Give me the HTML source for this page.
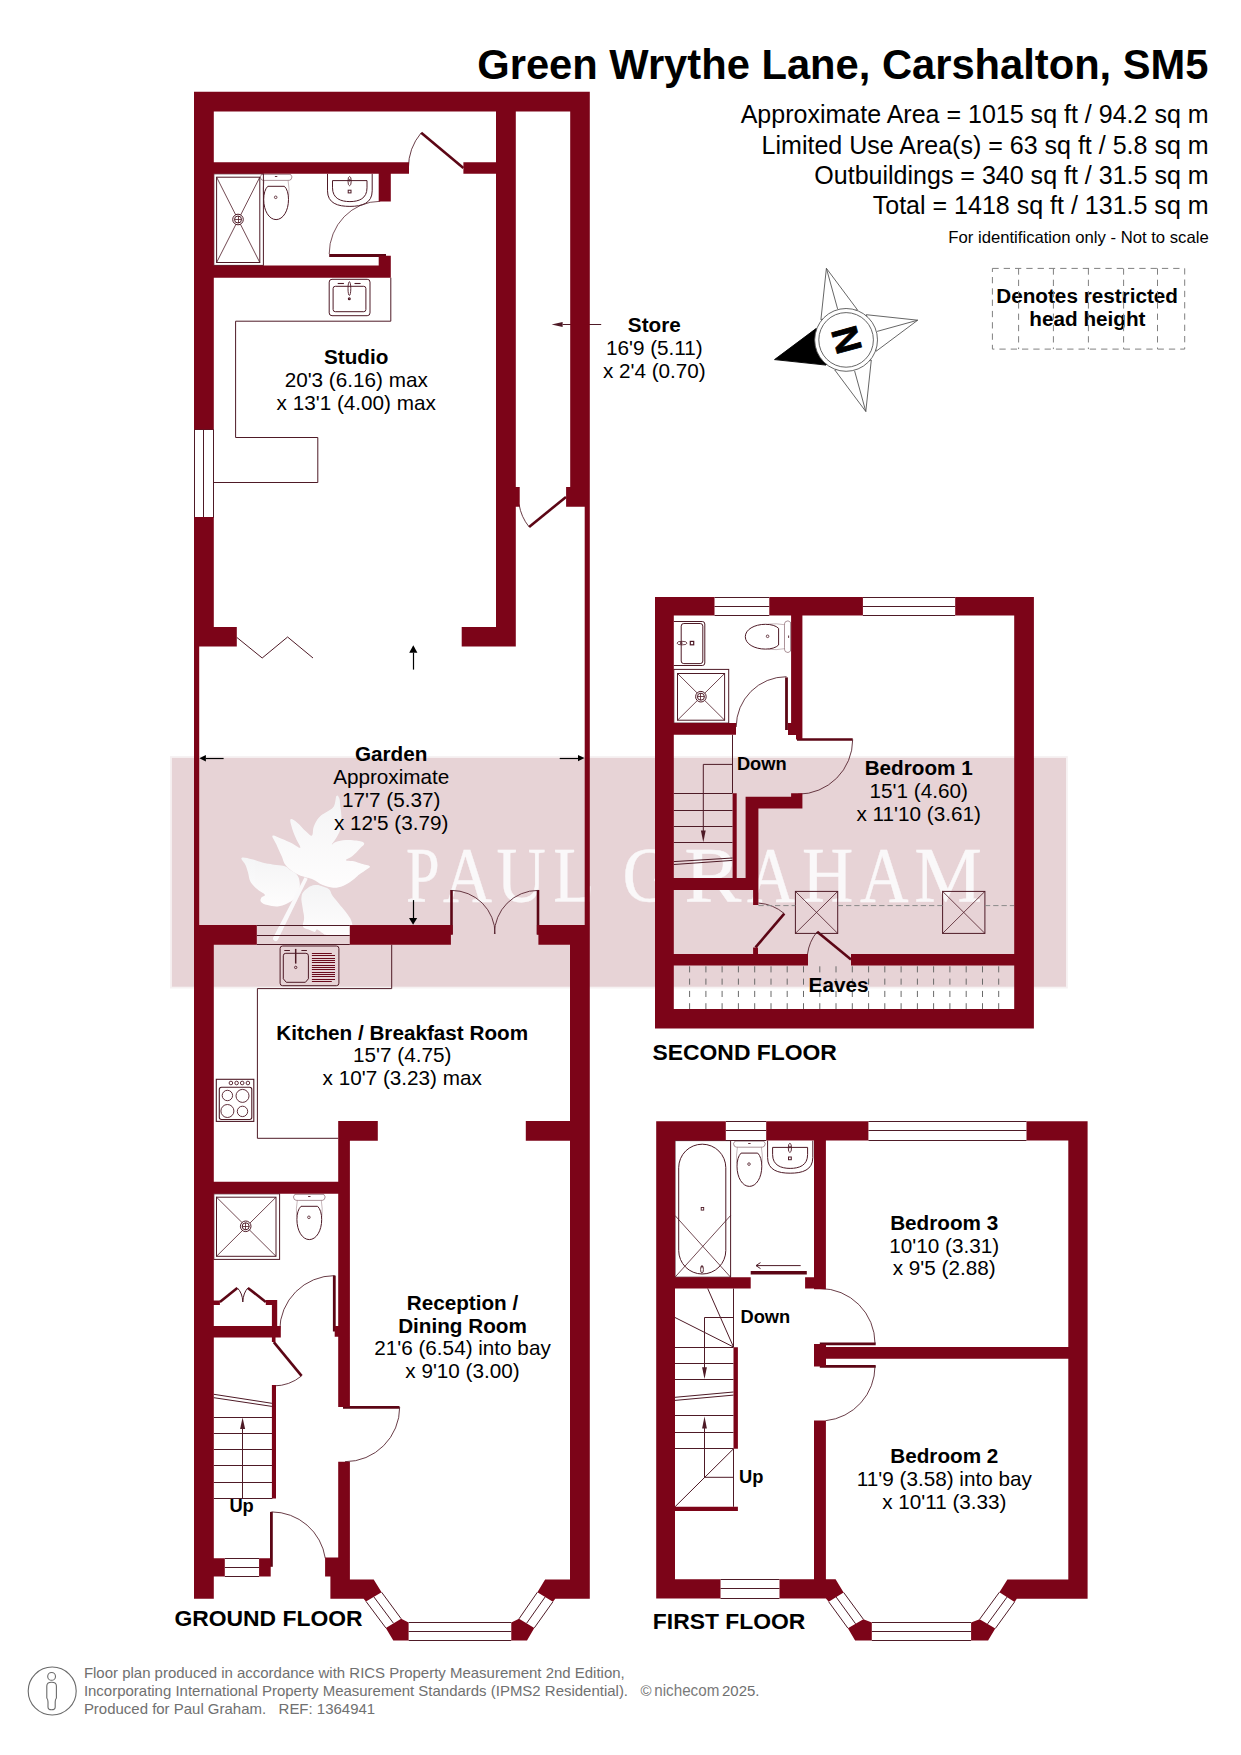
<!DOCTYPE html>
<html><head><meta charset="utf-8"><title>Floor plan</title>
<style>html,body{margin:0;padding:0;background:#fff}svg{display:block}text{font-family:"Liberation Sans",sans-serif}</style></head><body>
<svg width="1241" height="1755" viewBox="0 0 1241 1755">
<rect width="1241" height="1755" fill="#fff"/>
<g id="wm">
<rect x="170" y="756.1" width="897.8" height="232.4" fill="#f6f1f2"/>
<rect x="171.9" y="757.9" width="894.1" height="228.8" fill="#e7d3d6"/>
<defs><linearGradient id="lg" x1="0" y1="0" x2="0" y2="1"><stop offset="0" stop-color="#f5f6f7"/><stop offset="1" stop-color="#ffffff"/></linearGradient></defs>
<g fill="url(#lg)" opacity="0.97">
<path d="M336.4 796.1 C335.3 797.8 335.9 803.2 333.8 806.4 C331.7 809.7 329.0 810.0 326.1 812.2 C323.1 814.4 321.4 814.6 319.0 817.4 C316.5 820.2 315.2 822.8 313.8 826.4 C312.4 830.0 313.4 834.4 311.9 835.4 C310.3 836.5 309.0 834.2 306.1 831.6 C303.1 829.0 300.1 825.0 297.0 822.5 C294.0 820.1 291.6 818.3 290.6 819.3 C289.6 820.4 290.9 824.0 291.9 827.7 C292.9 831.4 294.1 834.0 295.8 838.0 C297.4 842.0 301.0 846.7 300.3 847.7 C299.5 848.7 295.6 845.0 291.9 843.2 C288.1 841.4 285.4 840.2 281.6 838.7 C277.7 837.2 273.6 834.5 272.5 835.7 C271.5 836.9 274.6 840.4 276.4 844.5 C278.2 848.5 279.6 851.8 281.6 856.1 C283.5 860.3 283.0 862.1 286.1 865.7 C289.2 869.4 293.2 871.8 297.0 874.1 C300.9 876.4 302.3 876.3 305.4 877.3 C308.5 878.4 309.0 877.7 312.5 879.3 C316.0 880.8 318.7 883.4 322.8 885.1 C327.0 886.8 329.0 887.5 333.1 887.7 C337.3 887.8 339.3 887.4 343.5 885.7 C347.6 884.0 350.7 881.5 353.8 879.3 C356.9 877.1 356.6 876.6 358.9 874.8 C361.3 873.0 363.2 871.9 365.4 870.3 C367.6 868.6 370.7 867.7 369.9 866.4 C369.1 865.1 364.7 864.8 361.5 863.8 C358.3 862.8 356.9 861.9 353.8 861.2 C350.7 860.5 346.3 861.2 346.0 860.2 C345.8 859.2 349.6 858.4 352.5 856.1 C355.3 853.7 357.9 850.9 360.2 848.3 C362.5 845.8 364.9 844.7 364.1 843.2 C363.3 841.6 360.0 841.2 356.4 840.6 C352.7 840.0 350.2 839.7 346.0 840.0 C341.9 840.2 338.6 841.0 335.7 841.9 C332.9 842.8 331.6 845.5 331.9 844.5 C332.1 843.4 335.2 840.1 337.0 836.7 C338.8 833.4 340.0 831.6 340.9 827.7 C341.8 823.8 341.7 821.8 341.5 817.4 C341.4 813.0 340.7 809.7 340.2 805.8 C339.8 801.9 340.0 800.0 339.2 798.1 C338.4 796.1 337.5 794.4 336.4 796.1z"/>
<path d="M241.6 858.0 C242.9 856.8 247.8 858.4 251.9 859.3 C256.0 860.2 258.9 861.6 262.2 862.5 C265.6 863.4 265.8 863.3 268.7 863.8 C271.5 864.3 273.1 864.6 276.4 865.1 C279.8 865.6 282.6 865.4 285.4 866.4 C288.3 867.4 288.3 868.6 290.6 870.3 C292.9 871.9 295.2 872.4 297.0 874.8 C298.8 877.1 299.2 878.9 299.6 881.9 C300.0 884.8 300.0 886.2 299.0 889.6 C297.9 892.9 296.9 895.8 294.5 898.6 C292.0 901.5 290.1 902.2 286.7 903.8 C283.4 905.3 281.6 906.1 277.7 906.4 C273.8 906.6 270.7 906.0 267.4 905.1 C264.0 904.2 262.1 903.4 260.9 901.8 C259.8 900.3 260.8 898.7 261.6 897.3 C262.4 895.9 265.6 896.3 264.8 894.7 C264.0 893.2 260.6 892.2 257.7 889.6 C254.9 887.0 252.6 885.2 250.6 881.9 C248.7 878.5 249.1 876.2 248.1 872.8 C247.0 869.5 246.8 868.1 245.5 865.1 C244.2 862.1 240.3 859.2 241.6 858.0z"/>
<path d="M301.6 896.0 C302.5 891.9 304.7 890.5 307.4 888.3 C310.1 886.1 312.0 885.5 315.1 885.1 C318.2 884.7 320.0 885.5 322.8 886.4 C325.7 887.3 327.5 887.9 329.3 889.6 C331.1 891.3 330.3 892.4 331.9 894.7 C333.4 897.1 335.0 898.6 337.0 901.2 C339.1 903.8 340.1 905.1 342.2 907.6 C344.2 910.2 345.5 911.5 347.3 914.1 C349.1 916.7 350.1 917.7 351.2 920.5 C352.3 923.4 352.6 925.4 352.9 928.3 C353.1 931.1 353.9 933.3 352.5 934.7 C351.1 936.1 350.9 935.1 346.0 935.2 C341.1 935.3 332.7 935.7 328.0 935.2 C323.3 934.8 324.2 933.8 322.4 932.9 C320.6 932.0 320.1 931.3 319.0 930.6 C317.8 929.9 317.5 929.3 316.6 929.6 C315.8 929.8 316.2 931.9 314.6 931.9 C313.0 931.9 311.0 930.6 308.6 929.6 C306.3 928.5 303.9 928.9 303.0 926.6 C302.1 924.3 304.2 921.5 304.1 918.0 C304.1 914.4 303.4 913.3 302.8 908.9 C302.3 904.5 300.7 900.2 301.6 896.0z"/>
<path d="M304.5 877.2 L307.7 878.8 L277.7 940 A2.6 2.6 0 0 1 273.1 937.7 Z" fill="#fbfbfc"/>
</g>
<text transform='translate(406.09,900.7) scale(0.604,0.789)' style="font-family:'Liberation Serif',serif" font-size='100' fill='#faf8f9' stroke='#faf8f9' stroke-width='0.5'>P</text>
<text transform='translate(443.00,900.7) scale(0.679,0.789)' style="font-family:'Liberation Serif',serif" font-size='100' fill='#faf8f9' stroke='#faf8f9' stroke-width='0.5'>A</text>
<text transform='translate(496.53,900.7) scale(0.683,0.789)' style="font-family:'Liberation Serif',serif" font-size='100' fill='#faf8f9' stroke='#faf8f9' stroke-width='0.5'>U</text>
<text transform='translate(553.36,900.7) scale(0.672,0.789)' style="font-family:'Liberation Serif',serif" font-size='100' fill='#faf8f9' stroke='#faf8f9' stroke-width='0.5'>L</text>
<text transform='translate(622.47,900.7) scale(0.708,0.789)' style="font-family:'Liberation Serif',serif" font-size='100' fill='#faf8f9' stroke='#faf8f9' stroke-width='0.5'>G</text>
<text transform='translate(684.29,900.7) scale(0.855,0.789)' style="font-family:'Liberation Serif',serif" font-size='100' fill='#faf8f9' stroke='#faf8f9' stroke-width='0.5'>R</text>
<text transform='translate(747.00,900.7) scale(0.667,0.789)' style="font-family:'Liberation Serif',serif" font-size='100' fill='#faf8f9' stroke='#faf8f9' stroke-width='0.5'>A</text>
<text transform='translate(801.88,900.7) scale(0.710,0.789)' style="font-family:'Liberation Serif',serif" font-size='100' fill='#faf8f9' stroke='#faf8f9' stroke-width='0.5'>H</text>
<text transform='translate(860.00,900.7) scale(0.672,0.789)' style="font-family:'Liberation Serif',serif" font-size='100' fill='#faf8f9' stroke='#faf8f9' stroke-width='0.5'>A</text>
<text transform='translate(914.18,900.7) scale(0.762,0.789)' style="font-family:'Liberation Serif',serif" font-size='100' fill='#faf8f9' stroke='#faf8f9' stroke-width='0.5'>M</text>
</g>
<g id="lines" fill="none">
<line x1="194.5" y1="429.6" x2="194.5" y2="517.0" stroke="#4e1a26" stroke-width="1.0" />
<line x1="203.5" y1="429.6" x2="203.5" y2="517.0" stroke="#4e1a26" stroke-width="1.0" />
<line x1="213.5" y1="429.6" x2="213.5" y2="517.0" stroke="#4e1a26" stroke-width="1.0" />
<line x1="194.0" y1="429.5" x2="213.8" y2="429.5" stroke="#4e1a26" stroke-width="1.0" />
<line x1="194.0" y1="517.5" x2="213.8" y2="517.5" stroke="#4e1a26" stroke-width="1.0" />
<path d="M390.8 277.7 V321.2 H235.6 V437.5 H317.8 V482.5 H213.8" stroke="#4e1a26" stroke-width="1.0" fill="none" />
<path d="M236.8 637.4 L262.2 658 L287.6 637 L313 658" stroke="#4e1a26" stroke-width="1.0" fill="none" />
<line x1="463.4" y1="168.0" x2="421.2" y2="132.8" stroke="#5c0615" stroke-width="2.6" />
<path d="M421.2 132.8 A55.0 55.0 0 0 0 408.4 168.0" stroke="#4e1a26" stroke-width="0.85" fill="none" />
<line x1="329.2" y1="255.4" x2="386.0" y2="255.4" stroke="#5c0615" stroke-width="3" />
<path d="M329.2 254 A51 52.7 0 0 1 380.2 201.3" stroke="#4e1a26" stroke-width="0.75" fill="none" />
<line x1="566.0" y1="497.0" x2="529.1" y2="526.9" stroke="#5c0615" stroke-width="2.6" />
<path d="M529.1 526.9 A47.5 47.5 0 0 1 519.1 504.4" stroke="#4e1a26" stroke-width="0.85" fill="none" />
<rect x="213.8" y="173.8" width="49.6" height="91.6" rx="0" fill="none" stroke="#4e1a26" stroke-width="1.0"/>
<rect x="216.6" y="177.2" width="43.2" height="85.3" rx="0" fill="none" stroke="#4e1a26" stroke-width="1.0"/>
<line x1="216.6" y1="177.2" x2="259.8" y2="262.5" stroke="#4e1a26" stroke-width="0.8" />
<line x1="259.8" y1="177.2" x2="216.6" y2="262.5" stroke="#4e1a26" stroke-width="0.8" />
<circle cx="238.0" cy="219.5" r="5.3" stroke="#4e1a26" stroke-width="1.0" fill="#fff"/>
<circle cx="238.0" cy="219.5" r="3.5" stroke="#4e1a26" stroke-width="1.0" fill="none"/>
<line x1="234.5" y1="219.5" x2="241.5" y2="219.5" stroke="#4e1a26" stroke-width="0.8" />
<line x1="238.5" y1="216.0" x2="238.5" y2="223.0" stroke="#4e1a26" stroke-width="0.8" />
<path d="M261.6 174.4 h29 q2.5 2.5 0.5 5 q-1.5 1.3 -4 1 h-22 q-2.5 0.3 -4 -1 q-2 -2.5 0.5 -5z" stroke="#4e1a26" stroke-width="0.8" fill="none" opacity="0.6"/>
<path d="M264.1 180.6 q-1.5 8 -0.6 16 M288.1 180.6 q1.5 8 0.6 16" stroke="#4e1a26" stroke-width="0.7" fill="none" opacity="0.45"/>
<path d="M267.8 186.3 H284.4 C287.1 188.8 288.5 193.8 288.5 199.4 C288.5 210.8 283.1 219.6 276.1 219.6 C269.1 219.6 263.7 210.8 263.7 199.4 C263.7 193.8 265.1 188.8 267.8 186.3z" stroke="#4e1a26" stroke-width="1.0" fill="none" />
<circle cx="275.7" cy="197.3" r="1.3" stroke="#4e1a26" stroke-width="0.8" fill="none"/>
<line x1="274.9" y1="176.5" x2="277.3" y2="176.5" stroke="#4e1a26" stroke-width="0.9" />
<path d="M327.5 173.8 V190.8 C327.5 203.4 337.9 206.4 349.9 206.4 C361.9 206.4 372.2 203.4 372.2 190.8 V173.8" stroke="#4e1a26" stroke-width="1.0" fill="none" />
<path d="M332.5 180.6 H367.0 V187.8 C367.0 198.6 358.9 201.6 349.9 201.6 C340.9 201.6 332.5 198.6 332.5 187.8z" stroke="#4e1a26" stroke-width="1.0" fill="none" />
<ellipse cx="349.6" cy="181.1" rx="1.6" ry="4.6" stroke="#4e1a26" stroke-width="0.9" fill="none"/>
<circle cx="349.6" cy="180.3" r="0.8" stroke="#4e1a26" stroke-width="0.8" fill="none"/>
<rect x="348.2" y="190.2" width="2.8" height="2.7" rx="0" fill="none" stroke="#4e1a26" stroke-width="1.0"/>
<rect x="329.2" y="279.3" width="40.8" height="36.4" rx="2.8" fill="none" stroke="#4e1a26" stroke-width="1.0"/>
<rect x="333.1" y="286.3" width="32.8" height="25.4" rx="2.2" fill="none" stroke="#4e1a26" stroke-width="1.0"/>
<ellipse cx="349.4" cy="288.6" rx="1.4" ry="6.9" stroke="#4e1a26" stroke-width="0.9" fill="none"/>
<circle cx="349.3" cy="298.8" r="0.9" stroke="#4e1a26" stroke-width="1.2" fill="none"/>
<line x1="337.7" y1="283.5" x2="343.9" y2="283.5" stroke="#4e1a26" stroke-width="1.1" />
<line x1="354.5" y1="283.5" x2="360.6" y2="283.5" stroke="#4e1a26" stroke-width="1.1" />
<line x1="601.2" y1="324.5" x2="562.6" y2="324.5" stroke="#4e1a26" stroke-width="1.0" />
<polygon points="551.6,324.4 562.6,321.9 562.6,326.9" fill="#4e1a26" />
<line x1="223.6" y1="758.5" x2="205.9" y2="758.5" stroke="#000" stroke-width="1.2" />
<polygon points="199.4,758.3 205.9,755.1 205.9,761.5" fill="#000" />
<line x1="559.7" y1="758.5" x2="578.0" y2="758.5" stroke="#000" stroke-width="1.2" />
<polygon points="584.5,758.1 578.0,761.3 578.0,754.9" fill="#000" />
<line x1="413.5" y1="669.6" x2="413.5" y2="652.7" stroke="#000" stroke-width="1.2" />
<polygon points="413.3,645.2 417.4,652.7 409.2,652.7" fill="#000" />
<line x1="413.5" y1="900.1" x2="413.5" y2="918.0" stroke="#000" stroke-width="1.2" />
<polygon points="413.1,924.8 409.0,918.0 417.2,918.0" fill="#000" />
<line x1="256.8" y1="925.5" x2="349.8" y2="925.5" stroke="#4e1a26" stroke-width="1.0" />
<line x1="256.8" y1="935.5" x2="349.8" y2="935.5" stroke="#4e1a26" stroke-width="1.0" />
<line x1="256.8" y1="944.5" x2="349.8" y2="944.5" stroke="#4e1a26" stroke-width="1.0" />
<line x1="451.5" y1="890.0" x2="451.5" y2="934.6" stroke="#5c0615" stroke-width="2.6" />
<line x1="538.0" y1="890.0" x2="538.0" y2="934.6" stroke="#5c0615" stroke-width="2.6" />
<path d="M451.5 890.4 A43.6 43.6 0 0 1 495.1 934.0" stroke="#4e1a26" stroke-width="0.85" fill="none" />
<path d="M538.0 890.4 A43.6 43.6 0 0 0 494.4 934.0" stroke="#4e1a26" stroke-width="0.85" fill="none" />
<path d="M391.7 944.7 V988.6 H257.4 V1138.3 H338.2" stroke="#4e1a26" stroke-width="1.0" fill="none" />
<rect x="280.1" y="946.0" width="58.8" height="39.7" rx="2.5" fill="none" stroke="#4e1a26" stroke-width="1.0"/>
<path d="M283.3 955.8 q0 -2.5 2.5 -2.5 h20.1 q2.5 0 2.5 2.5 v23 l-3 3.5 h-19.1 l-3 -3.5z" stroke="#4e1a26" stroke-width="1.0" fill="none" />
<line x1="295.7" y1="948.9" x2="295.7" y2="963.6" stroke="#4e1a26" stroke-width="1.5" />
<circle cx="295.7" cy="967.4" r="1.2" stroke="#4e1a26" stroke-width="0.9" fill="none"/>
<line x1="284.3" y1="950.5" x2="289.9" y2="950.5" stroke="#4e1a26" stroke-width="1.0" />
<line x1="301.4" y1="950.5" x2="306.9" y2="950.5" stroke="#4e1a26" stroke-width="1.0" />
<line x1="311.9" y1="953.5" x2="331.8" y2="953.5" stroke="#6a0a1c" stroke-width="1.05" />
<line x1="311.9" y1="955.5" x2="335.0" y2="955.5" stroke="#6a0a1c" stroke-width="1.05" />
<line x1="311.9" y1="958.5" x2="335.0" y2="958.5" stroke="#6a0a1c" stroke-width="1.05" />
<line x1="311.9" y1="960.5" x2="335.0" y2="960.5" stroke="#6a0a1c" stroke-width="1.05" />
<line x1="311.9" y1="962.5" x2="335.0" y2="962.5" stroke="#6a0a1c" stroke-width="1.05" />
<line x1="311.9" y1="965.5" x2="335.0" y2="965.5" stroke="#6a0a1c" stroke-width="1.05" />
<line x1="311.9" y1="967.5" x2="335.0" y2="967.5" stroke="#6a0a1c" stroke-width="1.05" />
<line x1="311.9" y1="969.5" x2="335.0" y2="969.5" stroke="#6a0a1c" stroke-width="1.05" />
<line x1="311.9" y1="972.5" x2="335.0" y2="972.5" stroke="#6a0a1c" stroke-width="1.05" />
<line x1="311.9" y1="974.5" x2="335.0" y2="974.5" stroke="#6a0a1c" stroke-width="1.05" />
<line x1="311.9" y1="976.5" x2="335.0" y2="976.5" stroke="#6a0a1c" stroke-width="1.05" />
<line x1="311.9" y1="979.5" x2="335.0" y2="979.5" stroke="#6a0a1c" stroke-width="1.05" />
<line x1="311.9" y1="981.5" x2="331.8" y2="981.5" stroke="#6a0a1c" stroke-width="1.05" />
<rect x="216.3" y="1079.3" width="37.5" height="42.1" rx="0" fill="none" stroke="#4e1a26" stroke-width="1.1"/>
<rect x="219.3" y="1087.2" width="32.5" height="32.3" rx="2.2" fill="none" stroke="#4e1a26" stroke-width="1.1"/>
<circle cx="230.9" cy="1083.0" r="1.8" stroke="#4e1a26" stroke-width="0.9" fill="none"/>
<circle cx="236.6" cy="1083.0" r="1.8" stroke="#4e1a26" stroke-width="0.9" fill="none"/>
<circle cx="242.2" cy="1083.0" r="1.8" stroke="#4e1a26" stroke-width="0.9" fill="none"/>
<circle cx="247.9" cy="1083.0" r="1.8" stroke="#4e1a26" stroke-width="0.9" fill="none"/>
<circle cx="227.4" cy="1095.5" r="5.2" stroke="#4e1a26" stroke-width="0.9" fill="none"/>
<circle cx="242.5" cy="1095.9" r="6.5" stroke="#4e1a26" stroke-width="0.9" fill="none"/>
<circle cx="227.4" cy="1111.0" r="6.5" stroke="#4e1a26" stroke-width="0.9" fill="none"/>
<circle cx="242.5" cy="1111.4" r="5.2" stroke="#4e1a26" stroke-width="0.9" fill="none"/>
<rect x="213.8" y="1193.8" width="65.8" height="65.6" rx="0" fill="none" stroke="#4e1a26" stroke-width="1.0"/>
<rect x="216.5" y="1197.2" width="59.5" height="59.1" rx="0" fill="none" stroke="#4e1a26" stroke-width="1.0"/>
<line x1="216.5" y1="1197.2" x2="276.0" y2="1256.3" stroke="#4e1a26" stroke-width="0.8" />
<line x1="276.0" y1="1197.2" x2="216.5" y2="1256.3" stroke="#4e1a26" stroke-width="0.8" />
<circle cx="245.7" cy="1226.3" r="5.3" stroke="#4e1a26" stroke-width="1.0" fill="#fff"/>
<circle cx="245.7" cy="1226.3" r="3.5" stroke="#4e1a26" stroke-width="1.0" fill="none"/>
<line x1="242.2" y1="1226.5" x2="249.2" y2="1226.5" stroke="#4e1a26" stroke-width="0.8" />
<line x1="245.5" y1="1222.8" x2="245.5" y2="1229.8" stroke="#4e1a26" stroke-width="0.8" />
<path d="M294.8 1194.4 h29 q2.5 2.5 0.5 5 q-1.5 1.3 -4 1 h-22 q-2.5 0.3 -4 -1 q-2 -2.5 0.5 -5z" stroke="#4e1a26" stroke-width="0.8" fill="none" opacity="0.6"/>
<path d="M297.3 1200.6 q-1.5 8 -0.6 16 M321.3 1200.6 q1.5 8 0.6 16" stroke="#4e1a26" stroke-width="0.7" fill="none" opacity="0.45"/>
<path d="M301.0 1206.3 H317.6 C320.3 1208.8 321.7 1213.8 321.7 1219.4 C321.7 1230.8 316.3 1239.6 309.3 1239.6 C302.3 1239.6 296.9 1230.8 296.9 1219.4 C296.9 1213.8 298.3 1208.8 301.0 1206.3z" stroke="#4e1a26" stroke-width="1.0" fill="none" />
<circle cx="308.9" cy="1217.3" r="1.3" stroke="#4e1a26" stroke-width="0.8" fill="none"/>
<line x1="308.1" y1="1196.5" x2="310.5" y2="1196.5" stroke="#4e1a26" stroke-width="0.9" />
<line x1="334.3" y1="1275.6" x2="334.3" y2="1331.5" stroke="#5c0615" stroke-width="2.8" />
<path d="M334.7 1275.6 A55.0 55.0 0 0 0 279.7 1330.6" stroke="#4e1a26" stroke-width="0.85" fill="none" />
<line x1="219.9" y1="1301.9" x2="237.3" y2="1287.9" stroke="#5c0615" stroke-width="2.6" />
<line x1="265.8" y1="1301.9" x2="247.9" y2="1287.9" stroke="#5c0615" stroke-width="2.6" />
<path d="M237.3 1287.9 Q242.5 1293 242.8 1302" stroke="#4e1a26" stroke-width="1.0" fill="none" />
<path d="M247.9 1287.9 Q243.2 1293 242.8 1302" stroke="#4e1a26" stroke-width="1.0" fill="none" />
<line x1="273.8" y1="1342.1" x2="301.6" y2="1375.9" stroke="#5c0615" stroke-width="2.6" />
<path d="M301.6 1375.9 A43.8 43.8 0 0 1 273.8 1385.9" stroke="#4e1a26" stroke-width="0.85" fill="none" />
<line x1="213.8" y1="1394.3" x2="271.9" y2="1403.3" stroke="#4e1a26" stroke-width="1.0" />
<line x1="213.8" y1="1397.7" x2="271.9" y2="1406.4" stroke="#4e1a26" stroke-width="1.0" />
<line x1="213.8" y1="1417.5" x2="272.4" y2="1417.5" stroke="#4e1a26" stroke-width="1.0" />
<line x1="213.8" y1="1433.5" x2="272.4" y2="1433.5" stroke="#4e1a26" stroke-width="1.0" />
<line x1="213.8" y1="1449.5" x2="272.4" y2="1449.5" stroke="#4e1a26" stroke-width="1.0" />
<line x1="213.8" y1="1465.5" x2="272.4" y2="1465.5" stroke="#4e1a26" stroke-width="1.0" />
<line x1="213.8" y1="1482.5" x2="272.4" y2="1482.5" stroke="#4e1a26" stroke-width="1.0" />
<line x1="213.8" y1="1498.5" x2="272.4" y2="1498.5" stroke="#4e1a26" stroke-width="1.0" />
<line x1="242.5" y1="1498.6" x2="242.5" y2="1428.0" stroke="#4e1a26" stroke-width="1.0" />
<polygon points="242.6,1417.6 240.1,1429.0 245.1,1429.0" fill="#4e1a26" />
<line x1="343.0" y1="1407.3" x2="399.5" y2="1407.3" stroke="#5c0615" stroke-width="2.8" />
<path d="M399.7 1407.0 A54.7 54.7 0 0 1 345.0 1461.7" stroke="#4e1a26" stroke-width="0.85" fill="none" />
<line x1="271.4" y1="1511.9" x2="271.4" y2="1566.8" stroke="#5c0615" stroke-width="2.8" />
<path d="M271.5 1511.9 A54.4 54.4 0 0 1 325.3 1558.3" stroke="#4e1a26" stroke-width="0.85" fill="none" />
<line x1="224.8" y1="1558.5" x2="259.1" y2="1558.5" stroke="#4e1a26" stroke-width="1.0" />
<line x1="224.8" y1="1567.5" x2="259.1" y2="1567.5" stroke="#4e1a26" stroke-width="1.0" />
<line x1="224.8" y1="1576.5" x2="259.1" y2="1576.5" stroke="#4e1a26" stroke-width="1.0" />
<line x1="381.6" y1="1592.2" x2="401.2" y2="1618.8" stroke="#4e1a26" stroke-width="1.0" />
<line x1="366.0" y1="1601.4" x2="385.8" y2="1627.9" stroke="#4e1a26" stroke-width="1.0" />
<line x1="373.8" y1="1596.8" x2="393.5" y2="1623.3" stroke="#4e1a26" stroke-width="1.0" />
<line x1="408.6" y1="1622.5" x2="511.3" y2="1622.5" stroke="#4e1a26" stroke-width="1.0" />
<line x1="408.6" y1="1631.5" x2="511.3" y2="1631.5" stroke="#4e1a26" stroke-width="1.0" />
<line x1="408.6" y1="1640.5" x2="511.3" y2="1640.5" stroke="#4e1a26" stroke-width="1.0" />
<line x1="519.0" y1="1618.8" x2="537.4" y2="1592.2" stroke="#4e1a26" stroke-width="1.0" />
<line x1="534.3" y1="1627.9" x2="552.9" y2="1601.8" stroke="#4e1a26" stroke-width="1.0" />
<line x1="526.6" y1="1623.3" x2="545.1" y2="1597.0" stroke="#4e1a26" stroke-width="1.0" />
</g>
<g id="lines2" fill="none">
<line x1="714.5" y1="597.5" x2="769.3" y2="597.5" stroke="#4e1a26" stroke-width="1.0" />
<line x1="714.5" y1="606.5" x2="769.3" y2="606.5" stroke="#4e1a26" stroke-width="1.0" />
<line x1="714.5" y1="615.5" x2="769.3" y2="615.5" stroke="#4e1a26" stroke-width="1.0" />
<line x1="862.9" y1="597.5" x2="955.2" y2="597.5" stroke="#4e1a26" stroke-width="1.0" />
<line x1="862.9" y1="606.5" x2="955.2" y2="606.5" stroke="#4e1a26" stroke-width="1.0" />
<line x1="862.9" y1="615.5" x2="955.2" y2="615.5" stroke="#4e1a26" stroke-width="1.0" />
<path d="M673.8 621.5 H702.3 Q704.8 621.5 704.8 624 V663 Q704.8 665.5 702.3 665.5 H673.8" stroke="#4e1a26" stroke-width="1.0" fill="none" />
<rect x="681.2" y="623.5" width="21.6" height="40.1" rx="2.6" fill="none" stroke="#4e1a26" stroke-width="1.0"/>
<ellipse cx="682.0" cy="643.1" rx="5.0" ry="1.8" stroke="#4e1a26" stroke-width="0.8" fill="none"/>
<circle cx="681.3" cy="643.1" r="0.9" stroke="#4e1a26" stroke-width="0.9" fill="none"/>
<rect x="690.3" y="641.4" width="3.4" height="3.4" rx="0" fill="none" stroke="#4e1a26" stroke-width="1.2"/>
<g transform="translate(791.1,636.7) rotate(90)">
<path d="M-14.5 0.6 h29 q2.5 2.5 0.5 5 q-1.5 1.3 -4 1 h-22 q-2.5 0.3 -4 -1 q-2 -2.5 0.5 -5z" stroke="#4e1a26" stroke-width="0.8" fill="none" opacity="0.6"/>
<path d="M-12.0 6.8 q-1.5 8 -0.6 16 M12.0 6.8 q1.5 8 0.6 16" stroke="#4e1a26" stroke-width="0.7" fill="none" opacity="0.45"/>
<path d="M-8.3 12.5 H8.3 C11.0 15.0 12.4 20.0 12.4 25.6 C12.4 37.0 7.0 45.8 0.0 45.8 C-7.0 45.8 -12.4 37.0 -12.4 25.6 C-12.4 20.0 -11.0 15.0 -8.3 12.5z" stroke="#4e1a26" stroke-width="1.0" fill="none" />
<circle cx="-0.4" cy="23.5" r="1.3" stroke="#4e1a26" stroke-width="0.8" fill="none"/>
<line x1="-1.2" y1="2.5" x2="1.2" y2="2.5" stroke="#4e1a26" stroke-width="0.9" />
</g>
<rect x="673.8" y="669.4" width="54.9" height="53.7" rx="0" fill="none" stroke="#4e1a26" stroke-width="1.0"/>
<rect x="677.5" y="673.5" width="47.1" height="46.7" rx="0" fill="none" stroke="#4e1a26" stroke-width="1.0"/>
<line x1="677.5" y1="673.5" x2="724.6" y2="720.2" stroke="#4e1a26" stroke-width="0.8" />
<line x1="724.6" y1="673.5" x2="677.5" y2="720.2" stroke="#4e1a26" stroke-width="0.8" />
<circle cx="700.9" cy="696.7" r="5.3" stroke="#4e1a26" stroke-width="1.0" fill="#fff"/>
<circle cx="700.9" cy="696.7" r="3.5" stroke="#4e1a26" stroke-width="1.0" fill="none"/>
<line x1="697.4" y1="696.5" x2="704.4" y2="696.5" stroke="#4e1a26" stroke-width="0.8" />
<line x1="700.5" y1="693.2" x2="700.5" y2="700.2" stroke="#4e1a26" stroke-width="0.8" />
<line x1="786.5" y1="677.4" x2="786.5" y2="730.0" stroke="#5c0615" stroke-width="2.8" />
<path d="M786.5 676.7 A50.3 50.3 0 0 0 736.2 727.0" stroke="#4e1a26" stroke-width="0.85" fill="none" />
<line x1="797.0" y1="739.5" x2="852.7" y2="739.5" stroke="#5c0615" stroke-width="2.6" />
<path d="M852.7 739.5 A54.7 54.7 0 0 1 798.0 794.2" stroke="#4e1a26" stroke-width="0.85" fill="none" />
<line x1="732.5" y1="734.7" x2="732.5" y2="793.2" stroke="#4e1a26" stroke-width="1.0" />
<line x1="673.8" y1="793.5" x2="732.6" y2="793.5" stroke="#4e1a26" stroke-width="1.0" />
<line x1="673.8" y1="810.5" x2="732.6" y2="810.5" stroke="#4e1a26" stroke-width="1.0" />
<line x1="673.8" y1="826.5" x2="732.6" y2="826.5" stroke="#4e1a26" stroke-width="1.0" />
<line x1="673.8" y1="842.5" x2="732.6" y2="842.5" stroke="#4e1a26" stroke-width="1.0" />
<line x1="673.8" y1="861.6" x2="732.6" y2="858.0" stroke="#4e1a26" stroke-width="1.0" />
<line x1="673.8" y1="864.5" x2="732.6" y2="860.4" stroke="#4e1a26" stroke-width="1.0" />
<path d="M732.6 764.4 H703.3 V831" stroke="#4e1a26" stroke-width="1.0" fill="none" />
<polygon points="703.3,842.3 700.9,830.4 705.7,830.4" fill="#4e1a26" />
<line x1="755.5" y1="947.4" x2="784.3" y2="913.6" stroke="#5c0615" stroke-width="2.6" />
<path d="M784.3 913.6 A44.4 44.4 0 0 0 758.6 903.1" stroke="#4e1a26" stroke-width="0.85" fill="none" />
<line x1="851.0" y1="959.5" x2="817.2" y2="931.7" stroke="#5c0615" stroke-width="2.6" />
<path d="M817.2 931.7 A43.8 43.8 0 0 0 807.5 954.2" stroke="#4e1a26" stroke-width="0.85" fill="none" />
<rect x="795.4" y="891.4" width="42.3" height="42.0" rx="0" fill="none" stroke="#4e1a26" stroke-width="1.0"/>
<line x1="795.4" y1="891.4" x2="837.7" y2="933.4" stroke="#4e1a26" stroke-width="0.8" />
<line x1="837.7" y1="891.4" x2="795.4" y2="933.4" stroke="#4e1a26" stroke-width="0.8" />
<rect x="942.6" y="891.4" width="42.3" height="42.0" rx="0" fill="none" stroke="#4e1a26" stroke-width="1.0"/>
<line x1="942.6" y1="891.4" x2="984.9" y2="933.4" stroke="#4e1a26" stroke-width="0.8" />
<line x1="984.9" y1="891.4" x2="942.6" y2="933.4" stroke="#4e1a26" stroke-width="0.8" />
<line x1="758.4" y1="905.6" x2="795.4" y2="905.6" stroke="#8a8a8a" stroke-width="1.0" stroke-dasharray="5.3 3"/>
<line x1="837.7" y1="905.6" x2="942.6" y2="905.6" stroke="#8a8a8a" stroke-width="1.0" stroke-dasharray="5.3 3"/>
<line x1="984.9" y1="905.6" x2="1014.2" y2="905.6" stroke="#8a8a8a" stroke-width="1.0" stroke-dasharray="5.3 3"/>
<line x1="689.6" y1="966.3" x2="689.6" y2="1009.0" stroke="#6a6a6a" stroke-width="1.0" stroke-dasharray="6.1 6.2"/>
<line x1="705.9" y1="966.3" x2="705.9" y2="1009.0" stroke="#6a6a6a" stroke-width="1.0" stroke-dasharray="6.1 6.2"/>
<line x1="722.1" y1="966.3" x2="722.1" y2="1009.0" stroke="#6a6a6a" stroke-width="1.0" stroke-dasharray="6.1 6.2"/>
<line x1="738.4" y1="966.3" x2="738.4" y2="1009.0" stroke="#6a6a6a" stroke-width="1.0" stroke-dasharray="6.1 6.2"/>
<line x1="754.7" y1="966.3" x2="754.7" y2="1009.0" stroke="#6a6a6a" stroke-width="1.0" stroke-dasharray="6.1 6.2"/>
<line x1="771.0" y1="966.3" x2="771.0" y2="1009.0" stroke="#6a6a6a" stroke-width="1.0" stroke-dasharray="6.1 6.2"/>
<line x1="787.2" y1="966.3" x2="787.2" y2="1009.0" stroke="#6a6a6a" stroke-width="1.0" stroke-dasharray="6.1 6.2"/>
<line x1="803.5" y1="966.3" x2="803.5" y2="1009.0" stroke="#6a6a6a" stroke-width="1.0" stroke-dasharray="6.1 6.2"/>
<line x1="819.8" y1="966.3" x2="819.8" y2="1009.0" stroke="#6a6a6a" stroke-width="1.0" stroke-dasharray="6.1 6.2"/>
<line x1="836.0" y1="966.3" x2="836.0" y2="1009.0" stroke="#6a6a6a" stroke-width="1.0" stroke-dasharray="6.1 6.2"/>
<line x1="852.3" y1="966.3" x2="852.3" y2="1009.0" stroke="#6a6a6a" stroke-width="1.0" stroke-dasharray="6.1 6.2"/>
<line x1="868.6" y1="966.3" x2="868.6" y2="1009.0" stroke="#6a6a6a" stroke-width="1.0" stroke-dasharray="6.1 6.2"/>
<line x1="884.8" y1="966.3" x2="884.8" y2="1009.0" stroke="#6a6a6a" stroke-width="1.0" stroke-dasharray="6.1 6.2"/>
<line x1="901.1" y1="966.3" x2="901.1" y2="1009.0" stroke="#6a6a6a" stroke-width="1.0" stroke-dasharray="6.1 6.2"/>
<line x1="917.4" y1="966.3" x2="917.4" y2="1009.0" stroke="#6a6a6a" stroke-width="1.0" stroke-dasharray="6.1 6.2"/>
<line x1="933.6" y1="966.3" x2="933.6" y2="1009.0" stroke="#6a6a6a" stroke-width="1.0" stroke-dasharray="6.1 6.2"/>
<line x1="949.9" y1="966.3" x2="949.9" y2="1009.0" stroke="#6a6a6a" stroke-width="1.0" stroke-dasharray="6.1 6.2"/>
<line x1="966.2" y1="966.3" x2="966.2" y2="1009.0" stroke="#6a6a6a" stroke-width="1.0" stroke-dasharray="6.1 6.2"/>
<line x1="982.5" y1="966.3" x2="982.5" y2="1009.0" stroke="#6a6a6a" stroke-width="1.0" stroke-dasharray="6.1 6.2"/>
<line x1="998.7" y1="966.3" x2="998.7" y2="1009.0" stroke="#6a6a6a" stroke-width="1.0" stroke-dasharray="6.1 6.2"/>
<line x1="725.8" y1="1121.5" x2="766.2" y2="1121.5" stroke="#4e1a26" stroke-width="1.0" />
<line x1="725.8" y1="1130.5" x2="766.2" y2="1130.5" stroke="#4e1a26" stroke-width="1.0" />
<line x1="725.8" y1="1140.5" x2="766.2" y2="1140.5" stroke="#4e1a26" stroke-width="1.0" />
<line x1="868.4" y1="1121.5" x2="1026.5" y2="1121.5" stroke="#4e1a26" stroke-width="1.0" />
<line x1="868.4" y1="1130.5" x2="1026.5" y2="1130.5" stroke="#4e1a26" stroke-width="1.0" />
<line x1="868.4" y1="1140.5" x2="1026.5" y2="1140.5" stroke="#4e1a26" stroke-width="1.0" />
<rect x="675.0" y="1140.6" width="55.6" height="136.6" rx="0" fill="none" stroke="#4e1a26" stroke-width="1.0"/>
<rect x="678.7" y="1144.2" width="47.1" height="129.8" rx="23.5" fill="none" stroke="#4e1a26" stroke-width="1.0"/>
<rect x="701.2" y="1207.5" width="2.5" height="2.6" rx="0" fill="none" stroke="#4e1a26" stroke-width="0.9"/>
<line x1="675.0" y1="1215.5" x2="730.6" y2="1277.2" stroke="#4e1a26" stroke-width="0.8" />
<line x1="730.6" y1="1215.5" x2="675.0" y2="1277.2" stroke="#4e1a26" stroke-width="0.8" />
<ellipse cx="702.0" cy="1269.5" rx="1.4" ry="3.6" stroke="#4e1a26" stroke-width="0.9" fill="none"/>
<circle cx="702.0" cy="1266.5" r="0.8" stroke="#4e1a26" stroke-width="0.8" fill="none"/>
<path d="M734.9 1141.2 h29 q2.5 2.5 0.5 5 q-1.5 1.3 -4 1 h-22 q-2.5 0.3 -4 -1 q-2 -2.5 0.5 -5z" stroke="#4e1a26" stroke-width="0.8" fill="none" opacity="0.6"/>
<path d="M737.4 1147.4 q-1.5 8 -0.6 16 M761.4 1147.4 q1.5 8 0.6 16" stroke="#4e1a26" stroke-width="0.7" fill="none" opacity="0.45"/>
<path d="M741.1 1153.1 H757.7 C760.4 1155.6 761.8 1160.6 761.8 1166.2 C761.8 1177.6 756.4 1186.4 749.4 1186.4 C742.4 1186.4 737.0 1177.6 737.0 1166.2 C737.0 1160.6 738.4 1155.6 741.1 1153.1z" stroke="#4e1a26" stroke-width="1.0" fill="none" />
<circle cx="749.0" cy="1164.1" r="1.3" stroke="#4e1a26" stroke-width="0.8" fill="none"/>
<line x1="748.2" y1="1143.5" x2="750.6" y2="1143.5" stroke="#4e1a26" stroke-width="0.9" />
<path d="M767.6 1140.6 V1157.6 C767.6 1170.2 778.2 1173.2 790.2 1173.2 C802.2 1173.2 812.8 1170.2 812.8 1157.6 V1140.6" stroke="#4e1a26" stroke-width="1.0" fill="none" />
<path d="M772.6 1147.4 H807.6 V1154.6 C807.6 1165.4 799.2 1168.4 790.2 1168.4 C781.2 1168.4 772.6 1165.4 772.6 1154.6z" stroke="#4e1a26" stroke-width="1.0" fill="none" />
<ellipse cx="789.9" cy="1147.9" rx="1.6" ry="4.6" stroke="#4e1a26" stroke-width="0.9" fill="none"/>
<circle cx="789.9" cy="1147.1" r="0.8" stroke="#4e1a26" stroke-width="0.8" fill="none"/>
<rect x="788.5" y="1157.0" width="2.8" height="2.7" rx="0" fill="none" stroke="#4e1a26" stroke-width="1.0"/>
<line x1="750.7" y1="1272.7" x2="806.8" y2="1272.7" stroke="#5c0615" stroke-width="3.6" />
<path d="M800.7 1265.6 H756 M760.5 1262.6 L756 1265.6 L760.5 1268.6" stroke="#4e1a26" stroke-width="1.0" fill="none" />
<line x1="733.5" y1="1288.5" x2="733.5" y2="1347.0" stroke="#4e1a26" stroke-width="1.0" />
<line x1="733.5" y1="1347.0" x2="707.7" y2="1288.5" stroke="#4e1a26" stroke-width="1.0" />
<line x1="733.5" y1="1347.0" x2="675.0" y2="1317.5" stroke="#4e1a26" stroke-width="1.0" />
<line x1="675.0" y1="1347.5" x2="733.5" y2="1347.5" stroke="#4e1a26" stroke-width="1.0" />
<line x1="675.0" y1="1363.5" x2="733.5" y2="1363.5" stroke="#4e1a26" stroke-width="1.0" />
<line x1="675.0" y1="1379.5" x2="733.5" y2="1379.5" stroke="#4e1a26" stroke-width="1.0" />
<line x1="675.0" y1="1415.5" x2="733.5" y2="1415.5" stroke="#4e1a26" stroke-width="1.0" />
<line x1="675.0" y1="1432.5" x2="733.5" y2="1432.5" stroke="#4e1a26" stroke-width="1.0" />
<line x1="675.0" y1="1448.5" x2="733.5" y2="1448.5" stroke="#4e1a26" stroke-width="1.0" />
<line x1="675.0" y1="1397.3" x2="733.5" y2="1392.0" stroke="#4e1a26" stroke-width="1.0" />
<line x1="675.0" y1="1400.4" x2="733.5" y2="1395.1" stroke="#4e1a26" stroke-width="1.0" />
<path d="M733.5 1317.5 H704.5 V1368" stroke="#4e1a26" stroke-width="1.0" fill="none" />
<polygon points="704.5,1379.0 702.1,1367.2 706.9,1367.2" fill="#4e1a26" />
<path d="M733.5 1477.3 H704.5 V1428" stroke="#4e1a26" stroke-width="1.0" fill="none" />
<polygon points="704.5,1416.6 702.1,1428.4 706.9,1428.4" fill="#4e1a26" />
<line x1="733.5" y1="1448.8" x2="733.5" y2="1506.8" stroke="#4e1a26" stroke-width="1.0" />
<line x1="733.5" y1="1448.8" x2="675.0" y2="1506.8" stroke="#4e1a26" stroke-width="1.0" />
<line x1="819.8" y1="1343.8" x2="875.7" y2="1343.8" stroke="#5c0615" stroke-width="2.8" />
<path d="M875.0 1343.5 A55.0 55.0 0 0 0 820.0 1288.5" stroke="#4e1a26" stroke-width="0.85" fill="none" />
<line x1="819.8" y1="1366.3" x2="875.7" y2="1366.3" stroke="#5c0615" stroke-width="2.8" />
<path d="M875.0 1366.0 A55.0 55.0 0 0 1 825.7 1420.7" stroke="#4e1a26" stroke-width="0.85" fill="none" />
<line x1="720.5" y1="1579.5" x2="779.5" y2="1579.5" stroke="#4e1a26" stroke-width="1.0" />
<line x1="720.5" y1="1588.5" x2="779.5" y2="1588.5" stroke="#4e1a26" stroke-width="1.0" />
<line x1="720.5" y1="1598.5" x2="779.5" y2="1598.5" stroke="#4e1a26" stroke-width="1.0" />
<line x1="843.6" y1="1592.4" x2="863.4" y2="1619.3" stroke="#4e1a26" stroke-width="1.0" />
<line x1="828.7" y1="1601.8" x2="847.9" y2="1628.2" stroke="#4e1a26" stroke-width="1.0" />
<line x1="836.2" y1="1597.1" x2="855.6" y2="1623.8" stroke="#4e1a26" stroke-width="1.0" />
<line x1="871.8" y1="1622.5" x2="971.1" y2="1622.5" stroke="#4e1a26" stroke-width="1.0" />
<line x1="871.8" y1="1631.5" x2="971.1" y2="1631.5" stroke="#4e1a26" stroke-width="1.0" />
<line x1="871.8" y1="1640.5" x2="971.1" y2="1640.5" stroke="#4e1a26" stroke-width="1.0" />
<line x1="979.6" y1="1619.3" x2="999.4" y2="1592.2" stroke="#4e1a26" stroke-width="1.0" />
<line x1="995.3" y1="1628.5" x2="1014.6" y2="1601.9" stroke="#4e1a26" stroke-width="1.0" />
<line x1="987.5" y1="1623.9" x2="1007.0" y2="1597.1" stroke="#4e1a26" stroke-width="1.0" />
</g>
<path id="walls" fill="#7c0418" fill-rule="nonzero" d="M194.0 91.7H589.8V111.5H194.0zM194.0 91.7H213.8V429.6H194.0zM194.0 517.0H213.8V646.6H194.0zM570.2 91.7H589.8V506.8H570.2zM496.0 91.7H515.8V646.6H496.0zM194.0 627.0H236.8V646.6H194.0zM461.7 627.0H515.8V646.6H461.7zM213.8 162.2H409.0V173.8H213.8zM463.4 162.2H496.0V173.8H463.4zM378.7 173.8H390.8V201.6H378.7zM213.8 265.4H390.8V277.7H213.8zM378.7 255.7H390.8V265.4H378.7zM515.8 487.0H519.7V506.8H515.8zM566.1 487.0H570.2V506.8H566.1zM194.0 646.6H199.2V925.0H194.0zM584.7 506.2H589.8V925.0H584.7zM194.0 925.0H213.8V1598.7H194.0zM194.0 925.0H256.8V944.7H194.0zM349.8 925.0H450.9V944.7H349.8zM349.8 925.0H452.6V934.6H349.8zM538.4 925.0H589.8V944.7H538.4zM536.9 925.0H589.8V934.6H536.9zM570.0 925.0H589.8V1598.7H570.0zM338.2 1121.1H377.8V1140.8H338.2zM525.8 1121.1H570.0V1140.8H525.8zM338.2 1121.1H349.9V1406.9H338.2zM338.2 1461.7H349.9V1579.4H338.2zM213.8 1181.7H338.2V1193.8H213.8zM213.8 1325.9H280.8V1337.5H213.8zM271.9 1300.0H277.2V1325.9H271.9zM265.8 1300.0H277.2V1304.9H265.8zM213.8 1300.5H219.9V1304.9H213.8zM334.7 1326.0H338.2V1336.8H334.7zM271.9 1337.5H275.5V1342.1H271.9zM271.9 1385.1H276.0V1498.6H271.9zM213.8 1558.3H224.8V1576.5H213.8zM259.1 1558.3H270.7V1576.5H259.1zM325.1 1557.6H338.3V1576.5H325.1zM330.4 1576.5H349.9V1598.7H330.4zM349.8 1579.4L373.7 1579.4L381.6 1592.2L366.0 1601.4L363.6 1598.7L349.8 1598.7zM401.2 1618.8L408.6 1622.4L408.6 1640.5L393.3 1640.5L385.8 1627.9zM511.3 1622.4L519.0 1618.8L534.3 1627.9L527.0 1640.5L511.3 1640.5zM589.8 1579.4L589.8 1598.7L555.3 1598.7L552.9 1601.8L537.4 1592.2L545.1 1579.4L570.0 1579.4zM655.0 596.9H673.8V1028.4H655.0zM655.0 596.9H714.5V615.5H655.0zM769.3 596.9H862.9V615.5H769.3zM955.2 596.9H1033.9V615.5H955.2zM1014.2 596.9H1033.9V1028.4H1014.2zM655.0 1009.1H1033.9V1028.4H655.0zM791.1 615.5H802.4V739.5H791.1zM788.0 723.0L791.1 723.0L791.1 739.5L796.0 739.5L796.0 735.0L788.0 735.0zM673.8 723.1H736.0V734.7H673.8zM732.6 793.2H736.7V880.0H732.6zM745.6 796.8H758.4V889.9H745.6zM753.1 889.9H758.4V905.1H753.1zM745.6 796.8H802.4V808.4H745.6zM791.1 793.2H802.4V797.0H791.1zM673.8 878.1H758.4V889.9H673.8zM673.8 954.0H808.0V965.6H673.8zM851.0 954.0H1014.2V965.6H851.0zM753.1 947.4H758.0V954.0H753.1zM656.2 1121.3H675.0V1598.6H656.2zM656.2 1121.3H725.8V1140.6H656.2zM766.2 1121.3H868.4V1140.6H766.2zM1026.5 1121.3H1087.6V1140.6H1026.5zM1068.3 1121.3H1087.6V1598.8H1068.3zM656.2 1579.3H720.5V1598.6H656.2zM779.5 1579.3H825.9V1598.6H779.5zM814.0 1140.6H825.9V1289.3H814.0zM675.0 1277.2H750.7V1288.5H675.0zM805.1 1277.2H825.9V1288.5H805.1zM814.0 1344.0H826.0V1366.4H814.0zM814.0 1347.0H1068.3V1358.8H814.0zM814.0 1420.4H825.9V1579.4H814.0zM733.5 1347.3H737.9V1448.8H733.5zM675.0 1506.8H737.9V1510.9H675.0zM825.9 1579.3L835.6 1579.3L843.6 1592.4L828.7 1601.8L825.9 1598.6zM863.4 1619.3L871.8 1622.4L871.8 1640.6L855.1 1640.6L847.9 1628.2zM971.1 1622.4L979.6 1619.3L995.3 1628.5L988.1 1640.6L971.1 1640.6zM1087.6 1579.4L1087.6 1598.8L1016.8 1598.8L1014.6 1601.9L999.4 1592.2L1007.4 1579.4z"/>
<g id="txt" font-family="Liberation Sans">
<text x="1208.5" y="78.5" font-size="41.7" font-weight="bold" text-anchor="end" fill="#000" >Green Wrythe Lane, Carshalton, SM5</text>
<text x="1208.6" y="123.2" font-size="25.03" font-weight="normal" text-anchor="end" fill="#000" >Approximate Area = 1015 sq ft / 94.2 sq m</text>
<text x="1208.6" y="153.6" font-size="25.03" font-weight="normal" text-anchor="end" fill="#000" >Limited Use Area(s) = 63 sq ft / 5.8 sq m</text>
<text x="1208.6" y="183.9" font-size="25.03" font-weight="normal" text-anchor="end" fill="#000" >Outbuildings = 340 sq ft / 31.5 sq m</text>
<text x="1208.6" y="214.2" font-size="25.03" font-weight="normal" text-anchor="end" fill="#000" >Total = 1418 sq ft / 131.5 sq m</text>
<text x="1208.7" y="243.1" font-size="16.68" font-weight="normal" text-anchor="end" fill="#000" >For identification only - Not to scale</text>
<text x="1087.1" y="303.2" font-size="20.7" font-weight="bold" text-anchor="middle" fill="#000" >Denotes restricted</text>
<text x="1087.4" y="326.2" font-size="20.7" font-weight="bold" text-anchor="middle" fill="#000" >head height</text>
<text x="356.2" y="364.1" font-size="20.7" font-weight="bold" text-anchor="middle" fill="#000" >Studio</text>
<text x="356.2" y="387.1" font-size="20.7" font-weight="normal" text-anchor="middle" fill="#000" >20'3 (6.16) max</text>
<text x="356.2" y="410.1" font-size="20.7" font-weight="normal" text-anchor="middle" fill="#000" >x 13'1 (4.00) max</text>
<text x="654.3" y="332.2" font-size="20.7" font-weight="bold" text-anchor="middle" fill="#000" >Store</text>
<text x="654.3" y="355.2" font-size="20.7" font-weight="normal" text-anchor="middle" fill="#000" >16'9 (5.11)</text>
<text x="654.3" y="378.2" font-size="20.7" font-weight="normal" text-anchor="middle" fill="#000" >x 2'4 (0.70)</text>
<text x="391.2" y="761.4" font-size="20.7" font-weight="bold" text-anchor="middle" fill="#000" >Garden</text>
<text x="391.2" y="784.4" font-size="20.7" font-weight="normal" text-anchor="middle" fill="#000" >Approximate</text>
<text x="391.2" y="807.4" font-size="20.7" font-weight="normal" text-anchor="middle" fill="#000" >17'7 (5.37)</text>
<text x="391.2" y="830.4" font-size="20.7" font-weight="normal" text-anchor="middle" fill="#000" >x 12'5 (3.79)</text>
<text x="402.2" y="1039.5" font-size="20.7" font-weight="bold" text-anchor="middle" fill="#000" >Kitchen / Breakfast Room</text>
<text x="402.2" y="1062.4" font-size="20.7" font-weight="normal" text-anchor="middle" fill="#000" >15'7 (4.75)</text>
<text x="402.2" y="1085.2" font-size="20.7" font-weight="normal" text-anchor="middle" fill="#000" >x 10'7 (3.23) max</text>
<text x="462.5" y="1309.6" font-size="20.7" font-weight="bold" text-anchor="middle" fill="#000" >Reception /</text>
<text x="462.5" y="1332.5" font-size="20.7" font-weight="bold" text-anchor="middle" fill="#000" >Dining Room</text>
<text x="462.5" y="1355.4" font-size="20.7" font-weight="normal" text-anchor="middle" fill="#000" >21'6 (6.54) into bay</text>
<text x="462.5" y="1377.9" font-size="20.7" font-weight="normal" text-anchor="middle" fill="#000" >x 9'10 (3.00)</text>
<text x="918.7" y="774.6" font-size="20.7" font-weight="bold" text-anchor="middle" fill="#000" >Bedroom 1</text>
<text x="918.7" y="797.6" font-size="20.7" font-weight="normal" text-anchor="middle" fill="#000" >15'1 (4.60)</text>
<text x="918.7" y="820.5" font-size="20.7" font-weight="normal" text-anchor="middle" fill="#000" >x 11'10 (3.61)</text>
<text x="944.2" y="1229.5" font-size="20.7" font-weight="bold" text-anchor="middle" fill="#000" >Bedroom 3</text>
<text x="944.2" y="1252.5" font-size="20.7" font-weight="normal" text-anchor="middle" fill="#000" >10'10 (3.31)</text>
<text x="944.2" y="1275.2" font-size="20.7" font-weight="normal" text-anchor="middle" fill="#000" >x 9'5 (2.88)</text>
<text x="944.3" y="1463.2" font-size="20.7" font-weight="bold" text-anchor="middle" fill="#000" >Bedroom 2</text>
<text x="944.3" y="1486.0" font-size="20.7" font-weight="normal" text-anchor="middle" fill="#000" >11'9 (3.58) into bay</text>
<text x="944.3" y="1508.7" font-size="20.7" font-weight="normal" text-anchor="middle" fill="#000" >x 10'11 (3.33)</text>
<text x="838.5" y="992.0" font-size="20.7" font-weight="bold" text-anchor="middle" fill="#000" >Eaves</text>
<text x="736.9" y="769.7" font-size="18.3" font-weight="bold" text-anchor="start" fill="#000" >Down</text>
<text x="740.5" y="1323.4" font-size="18.3" font-weight="bold" text-anchor="start" fill="#000" >Down</text>
<text x="229.4" y="1512.1" font-size="18.3" font-weight="bold" text-anchor="start" fill="#000" >Up</text>
<text x="739.1" y="1483.1" font-size="18.3" font-weight="bold" text-anchor="start" fill="#000" >Up</text>
<text x="174.4" y="1626.1" font-size="22.9" font-weight="bold" text-anchor="start" fill="#000" >GROUND FLOOR</text>
<text x="652.5" y="1060.4" font-size="22.9" font-weight="bold" text-anchor="start" fill="#000" >SECOND FLOOR</text>
<text x="652.8" y="1628.6" font-size="22.9" font-weight="bold" text-anchor="start" fill="#000" >FIRST FLOOR</text>
<text x="83.9" y="1678.4" font-size="14.97" font-weight="normal" text-anchor="start" fill="#707070" >Floor plan produced in accordance with RICS Property Measurement 2nd Edition,</text>
<text x="83.9" y="1696.1" font-size="14.97" font-weight="normal" text-anchor="start" fill="#707070" >Incorporating International Property Measurement Standards (IPMS2 Residential).</text>
<text x="83.9" y="1713.8" font-size="14.97" font-weight="normal" text-anchor="start" fill="#707070" xml:space="preserve">Produced for Paul Graham.   REF: 1364941</text>
<text x="640.5" y="1696.1" font-size="14.97" font-weight="normal" text-anchor="start" fill="#707070" >©</text>
<text x="654.3" y="1696.1" font-size="15.6" font-weight="normal" text-anchor="start" fill="#7a7a7a" textLength="65" lengthAdjust="spacingAndGlyphs">nichecom</text>
<text x="722.0" y="1696.1" font-size="14.97" font-weight="normal" text-anchor="start" fill="#707070" >2025.</text>
</g>
<g fill="none" stroke="#6a6a6a" stroke-width="1.1">
<circle cx="52.2" cy="1691" r="24"/>
<circle cx="51.6" cy="1676.4" r="3.9"/>
<path d="M46.8 1686 q0 -3.8 4.8 -3.8 q4.8 0 4.8 3.8 v12 q-1.2 1.5 -1.2 4 v5 q0 2.8 -3.6 2.8 q-3.6 0 -3.6 -2.8 v-5 q0 -2.5 -1.2 -4z"/>
</g>
<g fill="none" stroke="#808080" stroke-width="1" stroke-dasharray="6.3 5">
<rect x="992.4" y="268.4" width="192.3" height="80.7"/>
<line x1="1018.6" y1="268.4" x2="1018.6" y2="349.1"/>
<line x1="1053.4" y1="268.4" x2="1053.4" y2="349.1"/>
<line x1="1088.4" y1="268.4" x2="1088.4" y2="349.1"/>
<line x1="1123.6" y1="268.4" x2="1123.6" y2="349.1"/>
<line x1="1157.5" y1="268.4" x2="1157.5" y2="349.1"/>
</g>
<g id="compass" stroke="#555" stroke-width="0.9" fill="none">
<polygon points="774.5,359.6 826.0,365.1 846.1,339.9 816.0,328.6" fill="#000" stroke="#000"/>
<polygon points="826.4,268.3 820.9,319.8 857.4,309.8"/>
<line x1="826.4" y1="268.3" x2="837.6" y2="308.9"/>
<polygon points="917.7,320.2 866.2,314.7 876.2,351.2"/>
<line x1="917.7" y1="320.2" x2="877.1" y2="331.4"/>
<polygon points="865.8,411.5 871.3,360.0 834.8,370.0"/>
<line x1="865.8" y1="411.5" x2="854.6" y2="370.9"/>
<circle cx="846.1" cy="339.9" r="31.4" fill="#fff"/>
<circle cx="846.1" cy="339.9" r="27.3"/>
</g>
<text x="0" y="0" transform="translate(846.1,339.9) rotate(254.6) translate(0,13.1)" font-family="Liberation Sans" font-weight="bold" font-size="36.7" text-anchor="middle" fill="#000" stroke="#000" stroke-width="0.8">N</text>
</svg></body></html>
